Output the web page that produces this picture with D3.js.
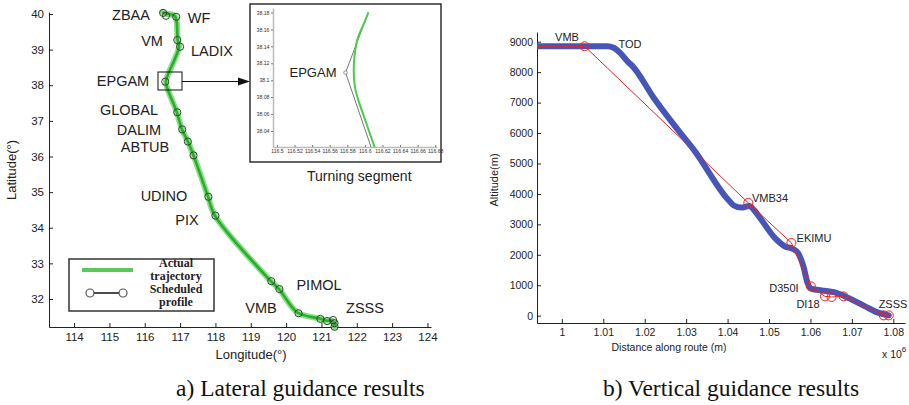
<!DOCTYPE html>
<html><head><meta charset="utf-8">
<script src="https://cdn.jsdelivr.net/npm/d3@7"></script>
<style>body{margin:0;background:#fff} svg{display:block}</style>
</head><body>
<svg id="c" width="909" height="405"></svg>
<script>
// ---------- (a) Lateral guidance data ----------
const schedLon = [116.52,116.60,116.89,116.92,117.00,116.58,116.92,117.06,117.22,117.38,117.80,118.00,119.58,119.81,120.35,120.97,121.16,121.33,121.37,121.37];
const schedLat = [40.03,39.95,39.92,39.27,39.08,38.10,37.24,36.76,36.42,36.03,34.87,34.34,32.50,32.28,31.60,31.44,31.38,31.41,31.32,31.22];
const actualLon = [116.50,116.56,116.84,116.90,116.93,116.97,116.62,116.60,116.90,117.05,117.22,117.38,117.78,117.98,119.55,119.80,120.32,120.95,121.15,121.30,121.36,121.37];
const actualLat = [40.06,40.02,39.96,39.80,39.28,39.08,38.20,38.05,37.26,36.77,36.42,36.03,34.90,34.35,32.52,32.28,31.62,31.45,31.39,31.40,31.32,31.22];
const lonTicks = [114,115,116,117,118,119,120,121,122,123,124];
const latTicks = [32,33,34,35,36,37,38,39,40];
const lateralNames = ["ZBAA","WF","VM","LADIX","EPGAM","GLOBAL","DALIM","ABTUB","UDINO","PIX","PIMOL","VMB","ZSSS"];

// inset (turning segment near EPGAM)
const insetActualLon = [116.604,116.598,116.592,116.589,116.5875,116.5875,116.589,116.593,116.598,116.603,116.608,116.611];
const insetActualLat = [38.18,38.165,38.15,38.135,38.12,38.105,38.09,38.075,38.06,38.045,38.03,38.021];
const insetSchedLon = [116.604,116.578,116.607];
const insetSchedLat = [38.18,38.109,38.021];
const insetLonTicks = [116.5,116.52,116.54,116.56,116.58,116.6,116.62,116.64,116.66,116.68];
const insetLatTicks = [38.04,38.06,38.08,38.1,38.12,38.14,38.16,38.18];

// ---------- (b) Vertical guidance data ----------
const actualDist = [994000,1011000,1012500,1014000,1016000,1017100,1022200,1028500,1031900,1040100,1041500,1043300,1045200,1046500,1048100,1051400,1053800,1055800,1057000,1058300,1059300,1060300,1062700,1065900,1069200,1073200,1076500,1078900];
const actualAlt  = [8850,8850,8800,8640,8330,8190,7150,6020,5440,3816,3620,3550,3600,3450,3160,2555,2280,2190,2060,1620,1075,880,830,765,580,305,90,10];
const schedDist = [994000,1005500,1045000,1055400,1060100,1063500,1065100,1068000,1077700,1078900];
const schedAlt  = [8850,8850,3705,2390,965,635,615,635,10,10];
const distTicks = [1000000,1010000,1020000,1030000,1040000,1050000,1060000,1070000,1080000];
const altTicks = [0,1000,2000,3000,4000,5000,6000,7000,8000,9000];
const verticalNames = ["VMB","TOD","VMB34","EKIMU","D350I","DI18","ZSSS"];

const SANS = "'Liberation Sans', Arial, sans-serif";
const SERIF = "'Liberation Serif', 'Times New Roman', serif";
const svg = d3.select("#c");

function styleAxis(g, fs){
  g.select(".domain").attr("stroke","#222").attr("stroke-width",1);
  g.selectAll(".tick line").attr("stroke","#222");
  g.selectAll(".tick text").attr("font-family",SANS).attr("font-size",fs).attr("fill","#222");
}

// ================= LEFT CHART =================
const xL = d3.scaleLinear().domain([113.29,124.1]).range([49,431]);
const yL = d3.scaleLinear().domain([31.214,40.056]).range([327,12]);
const L = svg.append("g");

L.append("g").attr("transform","translate(0,327)")
  .call(d3.axisBottom(xL).tickValues(lonTicks).tickFormat(d3.format("d")).tickSizeInner(-4).tickSizeOuter(0).tickPadding(6))
  .call(g=>styleAxis(g,11.5));
L.append("g").attr("transform","translate(49,0)")
  .call(d3.axisLeft(yL).tickValues(latTicks).tickFormat(d3.format("d")).tickSizeInner(-4).tickSizeOuter(0).tickPadding(5))
  .call(g=>styleAxis(g,11.5));

L.append("text").attr("x",251).attr("y",359).attr("text-anchor","middle")
  .attr("font-family",SANS).attr("font-size",13).attr("fill","#222").text("Longitude(°)");
L.append("text").attr("transform","translate(16,170) rotate(-90)").attr("text-anchor","middle")
  .attr("font-family",SANS).attr("font-size",13).attr("fill","#222").text("Latitude(°)");

const schedPts = schedLon.map((v,i)=>[v,schedLat[i]]);
const actPts = actualLon.map((v,i)=>[v,actualLat[i]]);
const lineL = d3.line().x(d=>xL(d[0])).y(d=>yL(d[1]));
const lineLs = d3.line().x(d=>xL(d[0])).y(d=>yL(d[1])).curve(d3.curveCatmullRom.alpha(0.5));

L.append("path").attr("d",lineL(schedPts)).attr("fill","none").attr("stroke","#444").attr("stroke-width",1);
L.append("path").attr("d",lineLs(actPts)).attr("fill","none").attr("stroke","#7ddc7d").attr("stroke-width",6)
  .attr("stroke-linejoin","round").attr("stroke-linecap","round").attr("opacity",0.9);
L.append("path").attr("d",lineLs(actPts)).attr("fill","none").attr("stroke","#2aae2a").attr("stroke-width",2.6)
  .attr("stroke-linejoin","round");
L.selectAll("circle.s").data(schedPts).join("circle").attr("class","s")
  .attr("cx",d=>xL(d[0])).attr("cy",d=>yL(d[1])).attr("r",3.6)
  .attr("fill","none").attr("stroke","#2c4a2c").attr("stroke-width",1);

// waypoint labels
const latLabelPos = [[131,20],[199,23],[152,46],[212,56],[123,86],[129,115],[139,135],[145,152],[164,201],[187,225],[319,290],[261,313],[365,313]];
L.selectAll("text.wp").data(lateralNames).join("text").attr("class","wp")
  .attr("x",(d,i)=>latLabelPos[i][0]).attr("y",(d,i)=>latLabelPos[i][1]).attr("text-anchor","middle")
  .attr("font-family",SANS).attr("font-size",14.5).attr("fill","#222").text(d=>d);

// zoom box + arrow
L.append("rect").attr("x",158).attr("y",72).attr("width",24).attr("height",18)
  .attr("fill","none").attr("stroke","#111").attr("stroke-width",1);
L.append("line").attr("x1",182).attr("y1",81.5).attr("x2",240).attr("y2",81.5).attr("stroke","#111").attr("stroke-width",1.2);
L.append("path").attr("d","M238,77.5 L250,81.5 L238,85.5 Z").attr("fill","#111");

// legend
L.append("rect").attr("x",69).attr("y",259).attr("width",145).attr("height",52)
  .attr("fill","#fff").attr("stroke","#333").attr("stroke-width",1.5);
L.append("line").attr("x1",82).attr("x2",133).attr("y1",270).attr("y2",270).attr("stroke","#5cc85c").attr("stroke-width",4);
L.append("line").attr("x1",90).attr("x2",123).attr("y1",293).attr("y2",293).attr("stroke","#111").attr("stroke-width",1.5);
[90,123].forEach(cx=>L.append("circle").attr("cx",cx).attr("cy",293).attr("r",4).attr("fill","#fff").attr("stroke","#555").attr("stroke-width",1.2));
[["Actual",267],["trajectory",280],["Scheduled",293],["profile",306]].forEach(t=>
  L.append("text").attr("x",176).attr("y",t[1]).attr("text-anchor","middle").attr("font-family",SERIF)
   .attr("font-weight","bold").attr("font-size",12).attr("fill","#222").text(t[0]));

// ---------- inset ----------
const I = svg.append("g");
I.append("rect").attr("x",250).attr("y",4).attr("width",191).attr("height",158).attr("fill","#fff").attr("stroke","#111").attr("stroke-width",1.3);
const xI = d3.scaleLinear().domain([116.4955,116.682]).range([273,437]);
const yI = d3.scaleLinear().domain([38.0211,38.1853]).range([147,8]);
I.append("g").attr("transform","translate(0,147)")
  .call(d3.axisBottom(xI).tickValues(insetLonTicks).tickFormat(d=>String(+d.toFixed(2))).tickSizeInner(-2).tickSizeOuter(0).tickPadding(2))
  .call(g=>{g.select(".domain").attr("stroke","#bbb").attr("stroke-width",1.5);
    g.selectAll(".tick line").attr("stroke","#777");
    g.selectAll(".tick text").attr("font-family",SANS).attr("font-size",5.2).attr("fill","#333");});
I.append("g").attr("transform","translate(273,0)")
  .call(d3.axisLeft(yI).tickValues(insetLatTicks).tickFormat(d=>String(+d.toFixed(2))).tickSizeInner(2).tickSizeOuter(0).tickPadding(1.5))
  .call(g=>{g.select(".domain").attr("stroke","#bbb").attr("stroke-width",1.5);
    g.selectAll(".tick line").attr("stroke","#777");
    g.selectAll(".tick text").attr("font-family",SANS).attr("font-size",5.2).attr("fill","#333");});
const lineI = d3.line().x(d=>xI(d[0])).y(d=>yI(d[1]));
const insetSched = insetSchedLon.map((v,i)=>[v,insetSchedLat[i]]);
const insetAct = insetActualLon.map((v,i)=>[v,insetActualLat[i]]);
I.append("path").attr("d",lineI(insetSched)).attr("fill","none").attr("stroke","#777").attr("stroke-width",1);
I.append("path").attr("d",d3.line().x(d=>xI(d[0])).y(d=>yI(d[1])).curve(d3.curveCatmullRom)(insetAct))
  .attr("fill","none").attr("stroke","#4ccc4c").attr("stroke-width",2);
I.append("circle").attr("cx",xI(insetSched[1][0])).attr("cy",yI(insetSched[1][1])).attr("r",1.8).attr("fill","#fff").attr("stroke","#777").attr("stroke-width",0.8);
I.append("text").attr("x",313).attr("y",77).attr("text-anchor","middle").attr("font-family",SANS).attr("font-size",13).attr("fill","#222").text("EPGAM");
I.append("text").attr("x",307).attr("y",181).attr("font-family",SANS).attr("font-size",14).attr("fill","#222").text("Turning segment");

// ================= RIGHT CHART =================
const xR = d3.scaleLinear().domain([994000,1082820]).range([537,905]);
const yR = d3.scaleLinear().domain([-240,9319]).range([323,32]);
const R = svg.append("g");
R.append("defs").append("clipPath").attr("id","cr").append("rect").attr("x",537).attr("y",0).attr("width",372).attr("height",323);
R.append("g").attr("transform","translate(0,323)")
  .call(d3.axisBottom(xR).tickValues(distTicks).tickFormat(d=>String(+(d/1e6).toFixed(2))).tickSizeInner(-4).tickSizeOuter(0).tickPadding(5.5))
  .call(g=>styleAxis(g,10.5));
R.append("g").attr("transform","translate(537,0)")
  .call(d3.axisLeft(yR).tickValues(altTicks).tickFormat(d3.format("d")).tickSizeInner(-4).tickSizeOuter(0).tickPadding(4))
  .call(g=>styleAxis(g,10.5));
R.append("text").attr("x",669).attr("y",351).attr("text-anchor","middle").attr("font-family",SANS).attr("font-size",10.5).attr("fill","#222").text("Distance along route (m)");
R.append("text").attr("transform","translate(498,180) rotate(-90)").attr("text-anchor","middle").attr("font-family",SANS).attr("font-size",11).attr("fill","#222").text("Altitude(m)");
const xe = R.append("text").attr("x",882).attr("y",358).attr("font-family",SANS).attr("font-size",10.5).attr("fill","#222");
xe.append("tspan").text("x 10");
xe.append("tspan").attr("dy",-6).attr("font-size",8).text("6");

const actV = actualDist.map((v,i)=>[v,actualAlt[i]]);
const schV = schedDist.map((v,i)=>[v,schedAlt[i]]);
const lineR = d3.line().x(d=>xR(d[0])).y(d=>yR(d[1]));
const P = R.append("g").attr("clip-path","url(#cr)");
P.append("path").attr("d",d3.line().x(d=>xR(d[0])).y(d=>yR(d[1])).curve(d3.curveMonotoneX)(actV))
  .attr("fill","none").attr("stroke","#4656b8").attr("stroke-width",6).attr("stroke-linejoin","round").attr("stroke-linecap","round");
P.append("path").attr("d",lineR(schV)).attr("fill","none").attr("stroke","#e8251f").attr("stroke-width",1);
P.selectAll("circle").data(schV.slice(1)).join("circle").attr("cx",d=>xR(d[0])).attr("cy",d=>yR(d[1])).attr("r",4.5)
  .attr("fill","none").attr("stroke","#e8251f").attr("stroke-width",1);

const vLabelPos = [[567,41],[630,48],[770,202],[814,242],[784,292],[808,308],[893,308]];
R.selectAll("text.wp").data(verticalNames).join("text").attr("class","wp")
  .attr("x",(d,i)=>vLabelPos[i][0]).attr("y",(d,i)=>vLabelPos[i][1]).attr("text-anchor","middle")
  .attr("font-family",SANS).attr("font-size",11).attr("fill","#222").text(d=>d);

// captions
svg.append("text").attr("x",176).attr("y",396).attr("font-family",SERIF).attr("font-size",23.5).attr("fill","#111").text("a) Lateral guidance results");
svg.append("text").attr("x",603).attr("y",396).attr("font-family",SERIF).attr("font-size",23.5).attr("fill","#111").text("b) Vertical guidance results");
</script>
</body></html>
